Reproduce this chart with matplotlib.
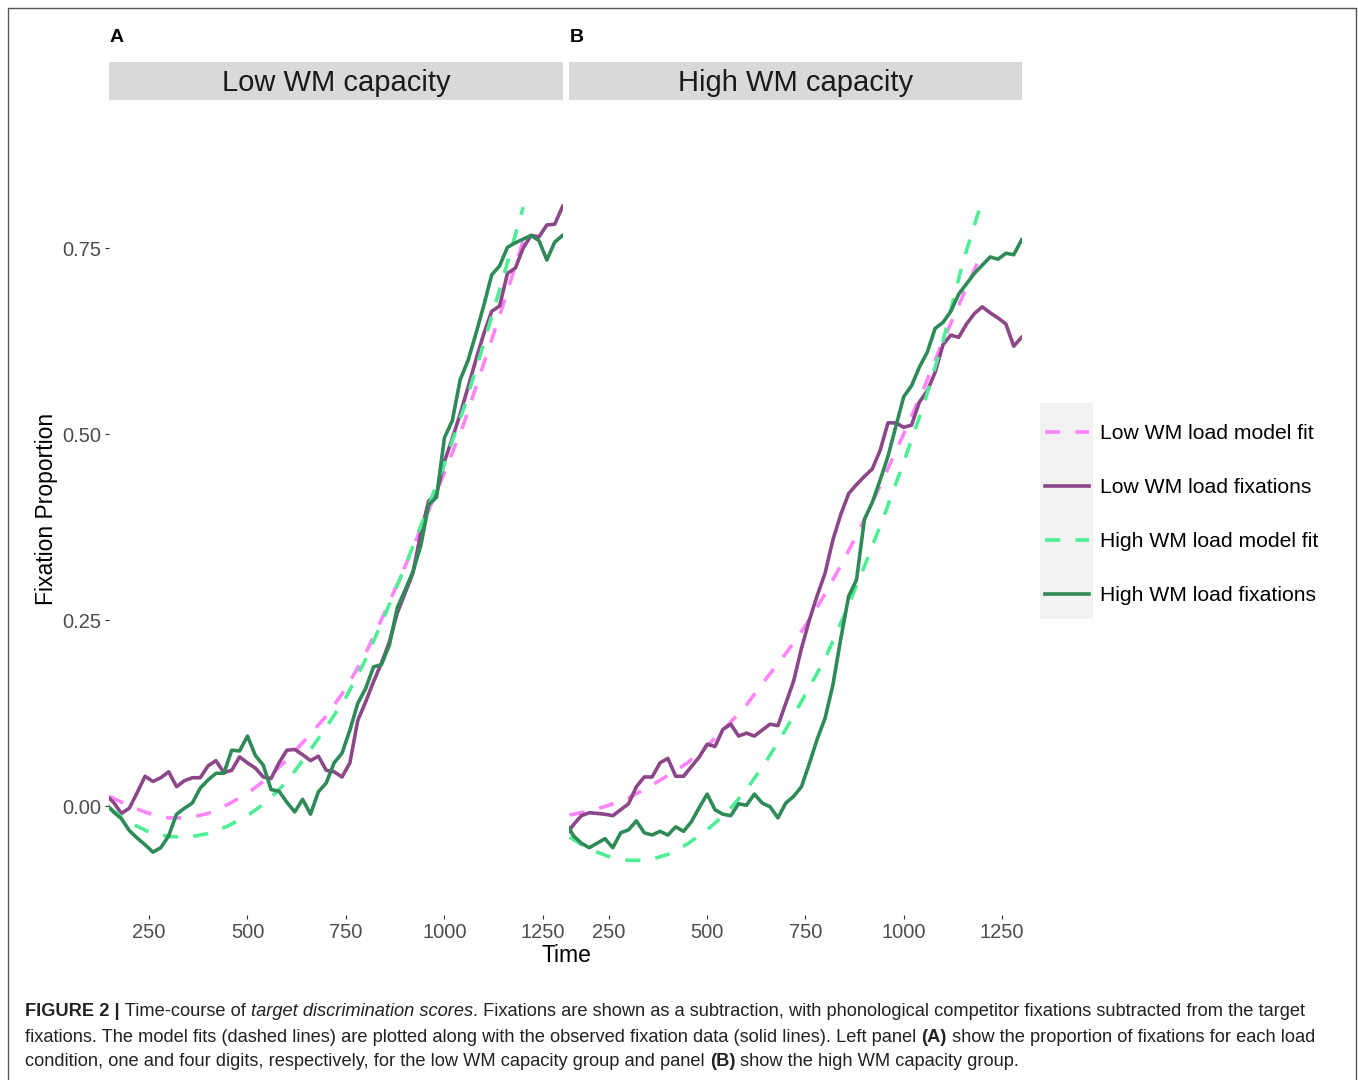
import matplotlib
matplotlib.use('Agg')
import matplotlib.pyplot as plt
from matplotlib.patches import Rectangle
from matplotlib.lines import Line2D

plt.rcParams['font.family'] = ['Liberation Sans', 'DejaVu Sans']

# --- data ---
TIME = list(range(140, 1301, 20))
FIT_TIME = list(range(150, 1201, 50))

low_cap_low_fix = [
    0.015, 0.005, -0.010, -0.003, 0.018, 0.040, 0.033, 0.038, 0.046,
    0.026, 0.034, 0.038, 0.038, 0.054, 0.061, 0.045, 0.048, 0.066, 0.058,
    0.051, 0.039, 0.037, 0.058, 0.075, 0.076, 0.069, 0.061, 0.067, 0.048,
    0.046, 0.039, 0.058, 0.115, 0.140, 0.167, 0.192, 0.220, 0.259, 0.286,
    0.313, 0.367, 0.410, 0.420, 0.463, 0.494, 0.527, 0.563, 0.600, 0.635,
    0.665, 0.672, 0.716, 0.723, 0.750, 0.767, 0.765, 0.781, 0.782, 0.806]
low_cap_high_fix = [
    0.003, -0.008, -0.017, -0.033, -0.043, -0.052, -0.062, -0.056, -0.040,
    -0.011, -0.003, 0.004, 0.024, 0.035, 0.044, 0.044, 0.075, 0.074, 0.094,
    0.068, 0.055, 0.022, 0.020, 0.005, -0.008, 0.009, -0.011, 0.019, 0.031,
    0.058, 0.071, 0.102, 0.138, 0.158, 0.187, 0.190, 0.216, 0.266, 0.290,
    0.315, 0.350, 0.405, 0.415, 0.495, 0.518, 0.573, 0.599, 0.635, 0.673,
    0.714, 0.726, 0.751, 0.757, 0.762, 0.767, 0.760, 0.734, 0.758, 0.767]
high_cap_low_fix = [
    -0.040, -0.025, -0.013, -0.009, -0.010, -0.011, -0.013, -0.005, 0.003,
    0.026, 0.039, 0.039, 0.058, 0.064, 0.040, 0.040, 0.053, 0.066, 0.083,
    0.080, 0.103, 0.110, 0.094, 0.098, 0.094, 0.102, 0.110, 0.108, 0.138,
    0.168, 0.212, 0.250, 0.283, 0.313, 0.358, 0.392, 0.420, 0.432, 0.443,
    0.453, 0.478, 0.515, 0.515, 0.509, 0.512, 0.543, 0.558, 0.583, 0.620,
    0.633, 0.630, 0.648, 0.662, 0.671, 0.663, 0.656, 0.648, 0.618, 0.630]
high_cap_high_fix = [
    -0.022, -0.040, -0.050, -0.056, -0.050, -0.044, -0.056, -0.036, -0.032,
    -0.020, -0.036, -0.039, -0.034, -0.039, -0.028, -0.034, -0.021, -0.002, 0.016,
    -0.005, -0.011, -0.013, 0.003, 0.001, 0.016, 0.004, -0.001, -0.016, 0.004,
    0.013, 0.026, 0.057, 0.090, 0.118, 0.163, 0.225, 0.282, 0.304, 0.385,
    0.408, 0.438, 0.470, 0.510, 0.550, 0.565, 0.590, 0.610, 0.642, 0.650,
    0.665, 0.688, 0.702, 0.716, 0.727, 0.738, 0.735, 0.743, 0.741, 0.761]

low_cap_low_fit = [0.013, 0.000, -0.010, -0.016, -0.016, -0.010, 0.002, 0.017,
                   0.037, 0.062, 0.091, 0.121, 0.158, 0.205, 0.262, 0.322,
                   0.385, 0.448, 0.515, 0.595, 0.675, 0.760]
low_cap_high_fit = [-0.003, -0.022, -0.035, -0.041, -0.042, -0.037, -0.027, -0.013,
                    0.006, 0.033, 0.068, 0.106, 0.146, 0.197, 0.258, 0.322,
                    0.390, 0.460, 0.536, 0.622, 0.712, 0.805]
high_cap_low_fit = [-0.012, -0.007, 0.001, 0.011, 0.025, 0.041, 0.058, 0.081,
                    0.107, 0.136, 0.171, 0.205, 0.242, 0.285, 0.333, 0.385,
                    0.442, 0.500, 0.560, 0.625, 0.685, 0.745]
high_cap_high_fit = [-0.042, -0.058, -0.068, -0.073, -0.073, -0.065, -0.051, -0.032,
                     -0.009, 0.022, 0.060, 0.103, 0.150, 0.198, 0.258, 0.322,
                     0.390, 0.462, 0.538, 0.625, 0.730, 0.815]

panels = ["Low WM capacity", "High WM capacity"]
panel_tags = ["A", "B"]
series_labels = ["Low WM load model fit", "Low WM load fixations",
                 "High WM load model fit", "High WM load fixations"]
x_ticks = [250, 500, 750, 1000, 1250]
y_ticks = [0.0, 0.25, 0.50, 0.75]

# orchid1, orchid4, seagreen2, seagreen4
colors = ['#FF83FA', '#8B4789', '#4EEE94', '#2E8B57']
LW = 2.6
DASH = (0, (4.2, 4.2))

W, H = 1358, 1080
fig = plt.figure(figsize=(W / 100, H / 100), dpi=100)


def fx(px):
    return px / W


def fy(py):
    return 1 - py / H


panel_x = [(109, 563), (569, 1022)]
top, bottom = 100, 915
data = [
    (low_cap_low_fit, low_cap_low_fix, low_cap_high_fit, low_cap_high_fix),
    (high_cap_low_fit, high_cap_low_fix, high_cap_high_fit, high_cap_high_fix),
]

handles = []
for i, (x0, x1) in enumerate(panel_x):
    ax = fig.add_axes([fx(x0), fy(bottom), (x1 - x0) / W, (bottom - top) / H])
    lf, lx, hf, hx = data[i]
    h1, = ax.plot(FIT_TIME, lf, color=colors[0], lw=LW, linestyle=DASH)
    h2, = ax.plot(TIME, lx, color=colors[1], lw=LW)
    h3, = ax.plot(FIT_TIME, hf, color=colors[2], lw=LW, linestyle=DASH)
    h4, = ax.plot(TIME, hx, color=colors[3], lw=LW)
    if i == 0:
        handles = [h1, h2, h3, h4]
    ax.set_xlim(148.5, 1301)
    ax.set_ylim(-0.1465, 0.949)
    for s in ax.spines.values():
        s.set_visible(False)
    ax.set_xticks(x_ticks)
    ax.set_xticklabels([str(t) for t in x_ticks])
    ax.tick_params(length=3, width=0.8, color='#333333', labelsize=14.5,
                   labelcolor='#4D4D4D', pad=2.5)
    if i == 0:
        ax.set_yticks(y_ticks)
        ax.set_yticklabels(['0.00', '0.25', '0.50', '0.75'])
    else:
        ax.set_yticks([])

    # facet strip
    fig.add_artist(Rectangle((fx(x0), fy(top)), (x1 - x0) / W, 38 / H,
                             transform=fig.transFigure, facecolor='#D9D9D9',
                             edgecolor='none'))
    fig.text(fx((x0 + x1) / 2), fy(83), panels[i], fontsize=21,
             color='#1A1A1A', ha='center', va='center')
    fig.text(fx(x0 + 0.5), fy(37), panel_tags[i], fontsize=14,
             fontweight='bold', ha='left', va='center')

fig.text(fx(47), fy(509), 'Fixation Proportion', rotation=90, fontsize=16.5,
         ha='center', va='center')
fig.text(fx(566), fy(955), 'Time', fontsize=16.5, ha='center', va='center')

# legend with grey key background
fig.add_artist(Rectangle((fx(1040), fy(619)), 53 / W, 216 / H,
                         transform=fig.transFigure, facecolor='#F2F2F2',
                         edgecolor='none', zorder=1))
fig.legend(handles, series_labels, loc='center left',
           bbox_to_anchor=(fx(1045), fy(514.5)), frameon=False, fontsize=15.2,
           borderpad=0, borderaxespad=0, handlelength=2.08, handletextpad=0.52,
           labelspacing=1.66)

# outer frame
fig.add_artist(Line2D([fx(7.5), fx(7.5), fx(1356), fx(1356)],
                      [0, fy(8), fy(8), 0], transform=fig.transFigure,
                      color='#555555', lw=1))

# caption
CAP_FONT = ['Liberation Sans Narrow', 'Liberation Sans', 'DejaVu Sans']
cap_lines = [
    [("FIGURE 2 |", 'bold', 'normal'), (" Time-course of ", 'normal', 'normal'),
     ("target discrimination scores", 'normal', 'italic'),
     (". Fixations are shown as a subtraction, with phonological competitor "
      "fixations subtracted from the target", 'normal', 'normal')],
    [("fixations. The model fits (dashed lines) are plotted along with the "
      "observed fixation data (solid lines). Left panel ", 'normal', 'normal'),
     ("(A)", 'bold', 'normal'),
     (" show the proportion of fixations for each load", 'normal', 'normal')],
    [("condition, one and four digits, respectively, for the low WM capacity "
      "group and panel ", 'normal', 'normal'),
     ("(B)", 'bold', 'normal'),
     (" show the high WM capacity group.", 'normal', 'normal')],
]
renderer = fig.canvas.get_renderer()


def piece_width(txt, size, weight, style):
    t = fig.text(0, 0, txt + '|', fontsize=size, fontweight=weight,
                 fontstyle=style, family=CAP_FONT)
    s = fig.text(0, 0, '|', fontsize=size, fontweight=weight,
                 fontstyle=style, family=CAP_FONT)
    w = t.get_window_extent(renderer).width - s.get_window_extent(renderer).width
    t.remove()
    s.remove()
    return w


base = 13
w1 = sum(piece_width(t, base, wt, st) for t, wt, st in cap_lines[0])
cap_size = base * (1279 / w1)
for line, y in zip(cap_lines, [1016.5, 1041.5, 1066.5]):
    x = 25
    for txt, wt, st in line:
        fig.text(fx(x), fy(y), txt, fontsize=cap_size, fontweight=wt,
                 fontstyle=st, family=CAP_FONT, color='#222222',
                 ha='left', va='baseline')
        x += piece_width(txt, cap_size, wt, st)

fig.savefig('out.png', dpi=100)
